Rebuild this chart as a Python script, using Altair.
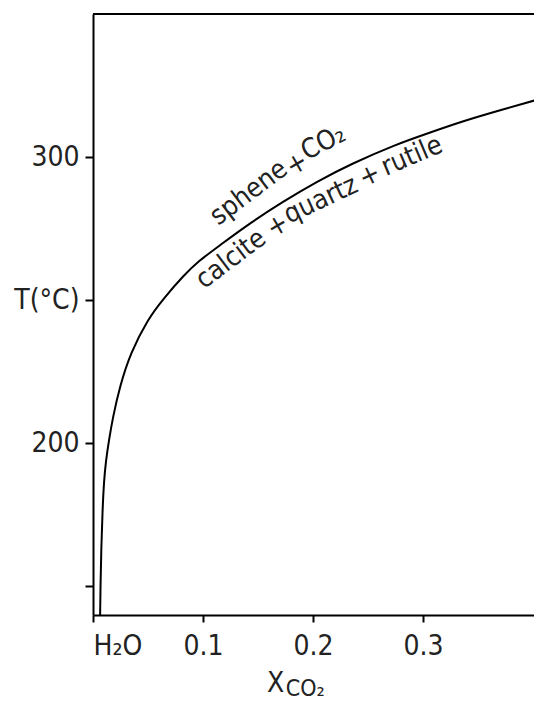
import altair as alt
import pandas as pd

# Boundary curve: sphene + CO2 = calcite + quartz + rutile
x_co2 = [0.0064, 0.0068, 0.0075, 0.0086, 0.010, 0.0118, 0.0145, 0.018, 0.0245, 0.034, 0.050,
         0.064, 0.082, 0.097, 0.113, 0.143, 0.173, 0.204, 0.234, 0.276, 0.306,
         0.336, 0.367, 0.408]
temp_c = [138, 150, 163, 176, 187, 194, 201, 209, 220, 231.5, 243.5,
          250.5, 258.5, 264, 268.5, 277, 284.5, 291.5, 297.5, 304.5, 308.5,
          312.5, 316, 320.5]

# Curve annotations (word by word, following the curve)
ann_text = ["sphene", "+", "CO₂", "calcite", "+", "quartz", "+", "rutile"]
ann_x = [0.1418, 0.1855, 0.2095, 0.1255, 0.168, 0.2073, 0.2518, 0.29]
ann_t = [287.5, 297.5, 305.0, 264.3, 275.9, 285.0, 293.4, 300.3]
ann_angle = [323, 330, 332, 323, 330, 335, 335, 337]

x_ticks = [0, 0.1, 0.2, 0.3]
y_ticks = [150, 200, 250, 300]
x_domain = [0, 0.401]
y_domain = [140, 350]

FONT = "DejaVu Sans Condensed, DejaVu Sans, sans-serif"

curve = pd.DataFrame({"x": x_co2, "T": temp_c})
ann = pd.DataFrame({"text": ann_text, "x": ann_x, "T": ann_t, "angle": ann_angle})

xs = alt.Scale(domain=x_domain, nice=False, zero=False)
ys = alt.Scale(domain=y_domain, nice=False, zero=False)

line = alt.Chart(curve).mark_line(
    color="black", strokeWidth=2, interpolate="basis", clip=True
).encode(
    x=alt.X("x:Q", scale=xs, axis=alt.Axis(
        values=x_ticks, title=None, tickSize=7, labelPadding=10,
        labelExpr="datum.value == 0 ? 'H₂O' : format(datum.value, '.1f')")),
    y=alt.Y("T:Q", scale=ys, axis=alt.Axis(
        values=y_ticks, title=None, tickSize=8, labelPadding=6,
        labelExpr="datum.value == 300 ? '300' : datum.value == 250 ? 'T(°C)' : datum.value == 200 ? '200' : ''")),
    order="x:Q",
)

top = alt.Chart(pd.DataFrame({"T": [y_domain[1]], "x0": [x_domain[0]], "x1": [x_domain[1]]})).mark_rule(
    color="black", strokeWidth=2
).encode(
    x=alt.X("x0:Q", scale=xs), x2="x1:Q", y=alt.Y("T:Q", scale=ys)
)

labels = alt.Chart(ann).mark_text(
    font=FONT, fontSize=27, color="#222", align="center", baseline="middle"
).encode(
    x=alt.X("x:Q", scale=xs), y=alt.Y("T:Q", scale=ys), text="text:N",
    angle=alt.Angle("angle:Q", scale=None)
)

xt = pd.DataFrame({"text": ["X", "CO₂"], "x": [0.166, 0.193], "T": [116.0, 114.0], "size": [28, 23]})
xtitle = alt.Chart(xt).mark_text(
    font=FONT, color="#222", align="center", baseline="middle"
).encode(
    x=alt.X("x:Q", scale=xs), y=alt.Y("T:Q", scale=ys), text="text:N",
    size=alt.Size("size:Q", scale=None, legend=None)
)

chart = alt.layer(line, top, labels, xtitle).properties(
    width=441, height=601,
    autosize=alt.AutoSizeParams(type="none"),
    padding={"left": 85, "top": 6, "right": 0, "bottom": 88},
).configure_view(stroke=None).configure_axis(
    grid=False, domainColor="black", domainWidth=2, tickColor="black", tickWidth=2,
    labelFont=FONT, labelFontSize=28, labelColor="#222"
)

chart.save("out.html", embed_options={"renderer": "svg", "actions": False})
